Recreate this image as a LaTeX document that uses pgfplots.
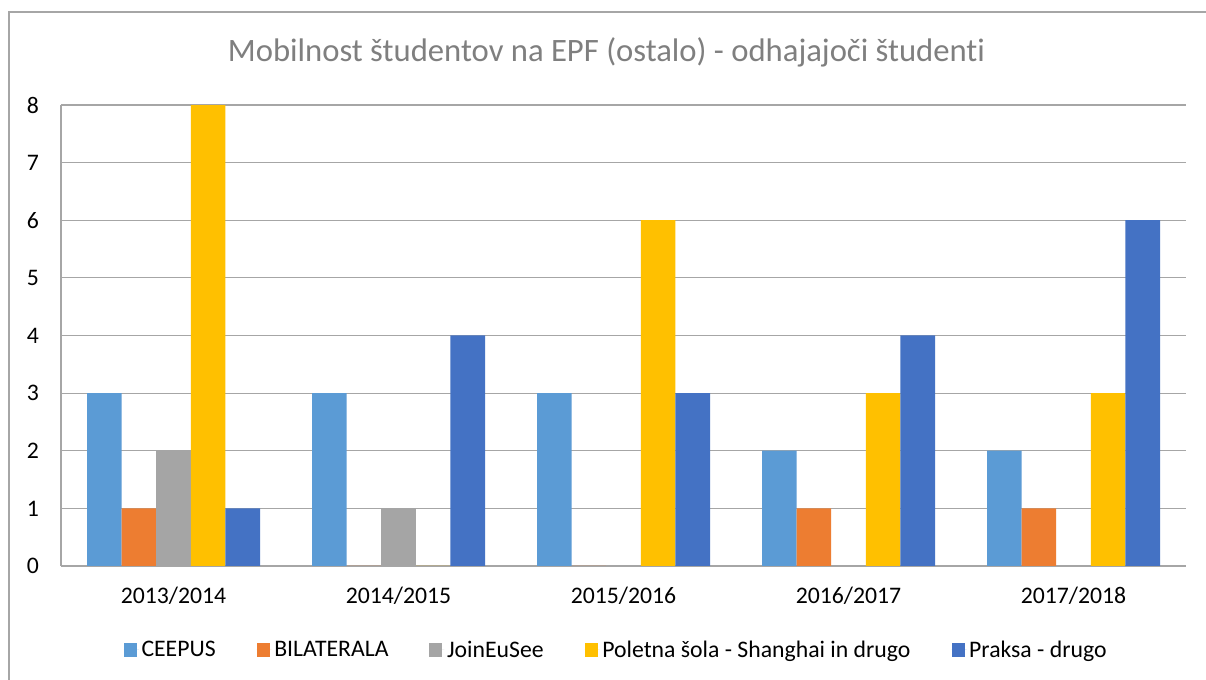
\documentclass[border=0pt]{standalone}
\usepackage{pgfplots}
\pgfplotsset{compat=1.18}
\usepackage{fontspec}
\setmainfont[RawFeature={-liga;-clig;-calt;-dlig}]{Carlito}
\definecolor{cA}{HTML}{5B9BD5}
\definecolor{cB}{HTML}{ED7D31}
\definecolor{cC}{HTML}{A5A5A5}
\definecolor{cD}{HTML}{FFC000}
\definecolor{cE}{HTML}{4472C4}
\definecolor{gridc}{HTML}{A6A6A6}
\definecolor{titlec}{HTML}{7F7F7F}
\begin{document}
\begin{tikzpicture}
\useasboundingbox (0pt,0pt) rectangle (904.5pt,510pt);
\fill[white] (0pt,0pt) rectangle (904.5pt,510pt);
\draw[color=gridc, line width=0.9pt] (6.75pt,-5pt) -- (6.75pt,501pt) -- (910pt,501pt);
\node[text=titlec, font=\fontsize{24.5pt}{28pt}\selectfont] at (454.9pt,471pt) {Mobilnost študentov na EPF (ostalo) - odhajajoči študent\kern0pt i};
\begin{axis}[
  at={(45.75pt,85.5pt)}, anchor=south west,
  scale only axis, width=843.75pt, height=345.75pt,
  ybar=0pt, bar width=25.95pt,
  xmin=-0.5, xmax=4.5, ymin=0, ymax=8,
  xtick={0,1,2,3,4},
  xticklabels={2013/2014,2014/2015,2015/2016,2016/2017,2017/2018},
  ytick={0,1,2,3,4,5,6,7,8},
  major tick length=0pt,
  ymajorgrids, grid style={color=gridc, line width=0.8pt},
  axis x line*=bottom, axis y line*=left,
  axis line style={color=gridc, line width=0.8pt, -},
  /pgf/number format/assume math mode=true,
  ticklabel style={font=\fontsize{17.8pt}{20pt}\selectfont, text=black},
  xticklabel style={yshift=-12pt},
  yticklabel style={xshift=-13pt},
  legend columns=5,
  legend style={at={(0.4938,-0.1822)}, anchor=center, draw=none,
    font=\fontsize{17.8pt}{20pt}\selectfont,
    /tikz/every even column/.append style={column sep=28.7pt},
    nodes={inner sep=2pt}},
  legend image code/.code={\fill[#1] (0pt,-4.9pt) rectangle (9.75pt,4.9pt); \path (0pt,0pt) -- (11.25pt,0pt);},
]
\addplot[fill=cA, draw=none] coordinates {(0,3) (1,3) (2,3) (3,2) (4,2)};
\addplot[fill=cB, draw=none] coordinates {(0,1) (1,0) (2,0) (3,1) (4,1)};
\addplot[fill=cC, draw=none] coordinates {(0,2) (1,1) (2,0) (3,0) (4,0)};
\addplot[fill=cD, draw=none] coordinates {(0,8) (1,0) (2,6) (3,3) (4,3)};
\addplot[fill=cE, draw=none] coordinates {(0,1) (1,4) (2,3) (3,4) (4,6)};
\legend{CEEPUS,BILATERALA,JoinEuSee,Poletna šola - Shanghai in drugo,Praksa - drugo}
\end{axis}
\end{tikzpicture}
\end{document}
